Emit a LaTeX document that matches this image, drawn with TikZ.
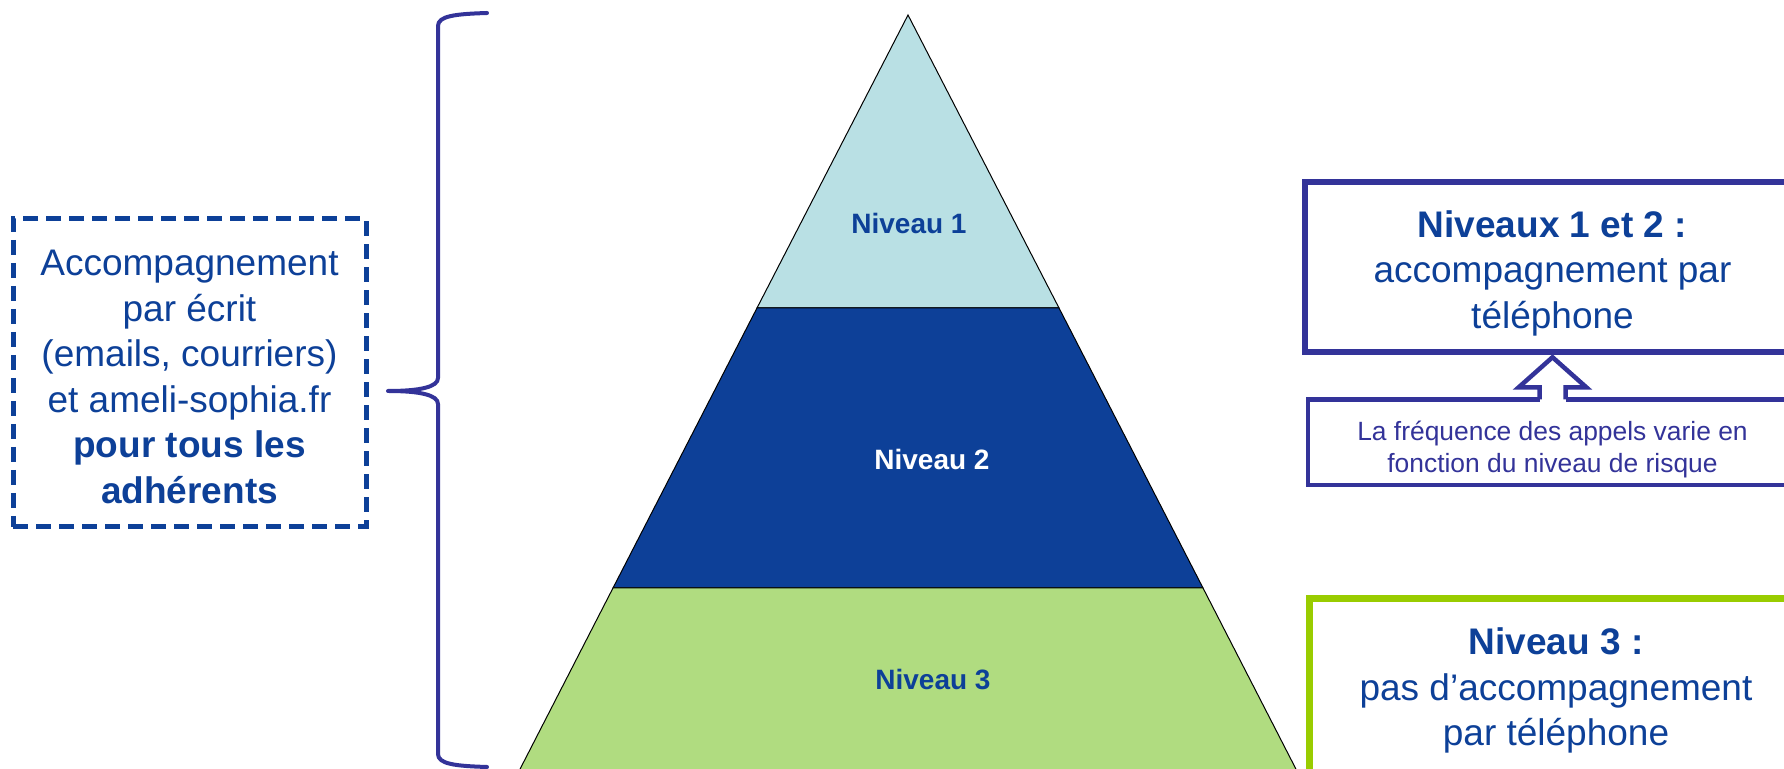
\documentclass[tikz,border=0pt]{standalone}
\usepackage{fontspec}
\setmainfont{Liberation Sans}
\usetikzlibrary{positioning,calc}
\definecolor{niveaublue}{RGB}{13,64,152}
\definecolor{cadrepurple}{RGB}{51,51,153}
\definecolor{cadregreen}{RGB}{153,204,0}
\definecolor{niveauunfill}{RGB}{185,224,228}
\definecolor{niveautroisfill}{RGB}{176,220,128}
\newcommand{\grandtexte}{\fontsize{18.5pt}{22.75pt}\selectfont}
\newcommand{\petittexte}{\fontsize{13.2pt}{16pt}\selectfont}
\tikzset{
  pyramide/.style={draw=black,line width=0.5pt},
  niveau/.style={font=\bfseries\fontsize{14pt}{16pt}\selectfont},
  cadre/.style={draw=cadrepurple,line width=3pt,fill=white,inner sep=0pt},
  texte/.style={align=center,text=niveaublue,font=\grandtexte,inner sep=0pt},
  accolade/.style={draw=cadrepurple,line width=2pt,line cap=round,line join=round},
  fleche/.style={draw=cadrepurple,line width=2.25pt,line join=miter},
}

\begin{document}
\begin{tikzpicture}[x=0.5pt,y=-0.5pt]
\clip (0,0) rectangle (1784,769);

% pyramide
\coordinate (apex) at (908,15);
\coordinate (n1l) at (757,308);
\coordinate (n1r) at (1059,308);
\coordinate (n2l) at (613,588);
\coordinate (n2r) at (1203,588);
\coordinate (n3l) at (517,775);
\coordinate (n3r) at (1299,775);

\filldraw[pyramide,fill=niveauunfill] (apex) -- (n1r) -- (n1l) -- cycle;
\filldraw[pyramide,fill=niveaublue] (n1l) -- (n1r) -- (n2r) -- (n2l) -- cycle;
\filldraw[pyramide,fill=niveautroisfill] (n2l) -- (n2r) -- (n3r) -- (n3l) -- cycle;

\node[niveau,text=niveaublue] (lab1) at (909,223) {Niveau 1};
\node[niveau,text=white] (lab2) at (932,459) {Niveau 2};
\node[niveau,text=niveaublue] (lab3) at (933,680) {Niveau 3};

% accolade et cadre de gauche
\draw[accolade] (487,13) .. controls (455,14) and (438,16) .. (438,26)
  -- (438,378) .. controls (438,387) and (420,391) .. (388,391)
  .. controls (420,391) and (438,395) .. (438,404)
  -- (438,754) .. controls (438,764) and (455,766) .. (487,767);

\node[cadre,draw=niveaublue,dash pattern=on 7.5pt off 4pt,line width=2.5pt,
  minimum width=176.5pt,minimum height=154pt] (ecrit) at (189.5,373) {};
\node[texte] (ecrittxt) at ($(ecrit)+(0,4)$)
  {Accompagnement\\par écrit\\(emails, courriers)\\et ameli-sophia.fr\\
   \textbf{pour tous les}\\\textbf{adhérents}};

% cadres de droite
\node[cadre,minimum width=247.5pt,minimum height=85.25pt] (topbox) at (1552.5,267) {};
\node[texte] (toptxt) at ($(topbox)+(0,6)$)
  {\textbf{Niveaux 1 et 2 :}\\accompagnement par\\téléphone};
\node[cadre,line width=2.25pt,minimum width=244.5pt,minimum height=42.75pt,
  below=21pt of topbox] (freqbox) {};
\node[texte,text=cadrepurple,font=\petittexte] (freqtxt) at ($(freqbox)+(0,7)$)
  {La fréquence des appels varie en\\fonction du niveau de risque};
\node[cadre,draw=cadregreen,line width=3.5pt,minimum width=247pt,minimum height=86.75pt,
  below=54pt of freqbox,xshift=1.75pt] (greenbox) {};
\node[texte] (greentxt) at ($(greenbox)+(0,5)$)
  {\textbf{Niveau 3 :}\\pas d’accompagnement\\par téléphone};

% fleche
\coordinate (pointe) at ($(topbox.south)+(0,2)$);
\coordinate (pied) at ($(freqbox.north)+(0,2.25)$);
\fill[white] ($(pied)+(-13,3)$) rectangle ($(pied)+(13,-14)$);
\draw[fleche] ($(pied)+(-13,0)$) -- ($(pied)+(-13,-12)$) -- ($(pied)+(-34,-12)$)
  -- (pointe) -- ($(pied)+(34,-12)$) -- ($(pied)+(13,-12)$) -- ($(pied)+(13,0)$);

\end{tikzpicture}
\end{document}
